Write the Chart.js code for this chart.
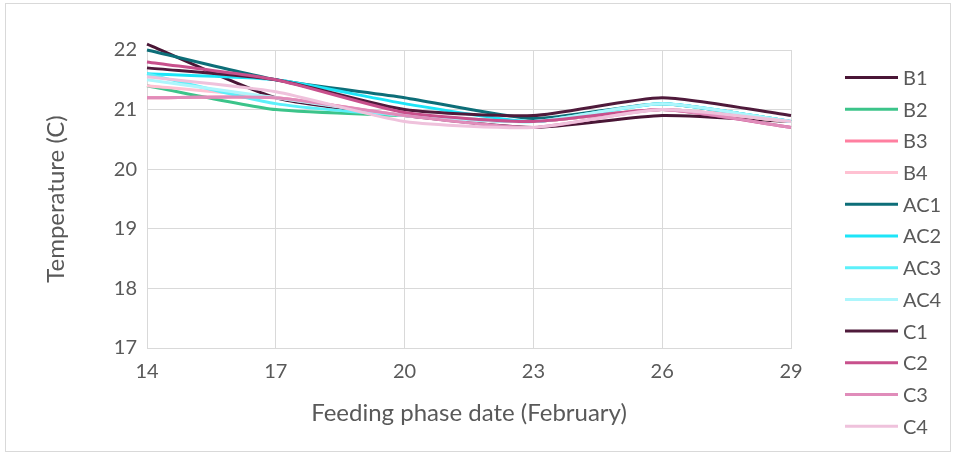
<!DOCTYPE html>
<html>
<head>
<meta charset="utf-8">
<script src="https://cdn.jsdelivr.net/npm/chart.js@4.4.1/dist/chart.umd.min.js"></script>
<style>
  html, body { margin: 0; padding: 0; background: #ffffff; }
  #frame { position: absolute; left: 5px; top: 3px; width: 946px; height: 449px; border: 1px solid #d9d9d9; box-sizing: border-box; }
  #wrap { position: absolute; left: 0; top: 0; width: 956px; height: 457px; }
</style>
</head>
<body>
<div id="frame"></div>
<div id="wrap"><canvas id="chart" width="956" height="457"></canvas></div>
<script>
// Feeding phase dates (February)
const days = ['14', '17', '20', '23', '26', '29'];
const yTicks = [17, 18, 19, 20, 21, 22];

// Temperature (C) per tank
const B1  = [22.1, 21.2, 20.9, 20.7, 20.9, 20.8];
const B2  = [21.4, 21.0, 20.9, 20.8, 21.0, 20.8];
const B3  = [21.2, 21.2, 20.9, 20.8, 21.0, 20.8];
const B4  = [21.4, 21.2, 20.9, 20.8, 21.0, 20.8];
const AC1 = [22.0, 21.5, 21.2, 20.85, 21.1, 20.8];
const AC2 = [21.6, 21.5, 21.1, 20.8, 21.1, 20.8];
const AC3 = [21.6, 21.1, 20.9, 20.8, 21.1, 20.8];
const AC4 = [21.5, 21.2, 20.9, 20.8, 21.1, 20.8];
const C1  = [21.7, 21.5, 21.0, 20.9, 21.2, 20.9];
const C2  = [21.8, 21.5, 20.95, 20.8, 21.0, 20.7];
const C3  = [21.2, 21.2, 20.9, 20.7, 21.0, 20.7];
const C4  = [21.55, 21.3, 20.8, 20.7, 21.0, 20.8];

const seriesNames = ['B1', 'B2', 'B3', 'B4', 'AC1', 'AC2', 'AC3', 'AC4', 'C1', 'C2', 'C3', 'C4'];
const seriesData = [B1, B2, B3, B4, AC1, AC2, AC3, AC4, C1, C2, C3, C4];
const seriesColors = ['#4a1636', '#3cc48a', '#ff7fa0', '#ffc1d2', '#0d6e78', '#1de5f8',
                      '#5cf0fa', '#adf6fc', '#4f1a3b', '#c8508c', '#e08cba', '#efc2dc'];

const FONT = "Lato, 'Open Sans', sans-serif";
const TEXT = '#595959';
const GRID = '#d9d9d9';

// later series are painted over earlier ones
const datasets = seriesNames.map((name, i) => ({
  label: name,
  data: seriesData[i],
  borderColor: seriesColors[i],
  backgroundColor: seriesColors[i],
  borderWidth: 3,
  pointRadius: 0,
  tension: 0.2,
  clip: false,
  order: seriesNames.length - i
}));

// legend drawn down the right side, in series order
const sideLegend = {
  id: 'sideLegend',
  afterDraw(chart) {
    const ctx = chart.ctx;
    const x0 = 845, x1 = 898, tx = 903;
    const top = 77.5, gap = 31.7;
    ctx.save();
    ctx.font = '20px ' + FONT;
    ctx.textBaseline = 'middle';
    ctx.textAlign = 'left';
    chart.data.datasets.forEach((ds, i) => {
      const y = top + i * gap;
      ctx.strokeStyle = ds.borderColor;
      ctx.lineWidth = 3;
      ctx.beginPath();
      ctx.moveTo(x0, y);
      ctx.lineTo(x1, y);
      ctx.stroke();
      ctx.fillStyle = TEXT;
      ctx.fillText(ds.label, tx, y + 1);
    });
    ctx.restore();
  }
};

new Chart(document.getElementById('chart'), {
  type: 'line',
  data: { labels: days, datasets: datasets },
  options: {
    responsive: false,
    animation: false,
    layout: { padding: { left: 42, right: 165, top: 50, bottom: 29 } },
    plugins: {
      legend: { display: false },
      tooltip: { enabled: false }
    },
    scales: {
      x: {
        type: 'category',
        offset: false,
        grid: { color: GRID, lineWidth: 1, drawTicks: false },
        border: { color: GRID },
        ticks: { color: TEXT, font: { family: FONT, size: 20 }, padding: 12, maxRotation: 0 },
        title: { display: true, text: 'Feeding phase date (February)', color: TEXT,
                 font: { family: FONT, size: 24 }, padding: { top: 8, bottom: 0 } },
        afterFit(scale) { scale.height = 80; }
      },
      y: {
        min: 17, max: 22,
        afterBuildTicks(scale) { scale.ticks = yTicks.map(v => ({ value: v })); },
        grid: { color: GRID, lineWidth: 1, drawTicks: false },
        border: { display: false },
        ticks: { color: TEXT, font: { family: FONT, size: 20 }, padding: 10 },
        title: { display: true, text: 'Temperature (C)', color: TEXT,
                 font: { family: FONT, size: 24 }, padding: { top: 0, bottom: 0 } },
        afterFit(scale) { scale.width = 105; }
      }
    }
  },
  plugins: [sideLegend]
});
</script>
</body>
</html>
